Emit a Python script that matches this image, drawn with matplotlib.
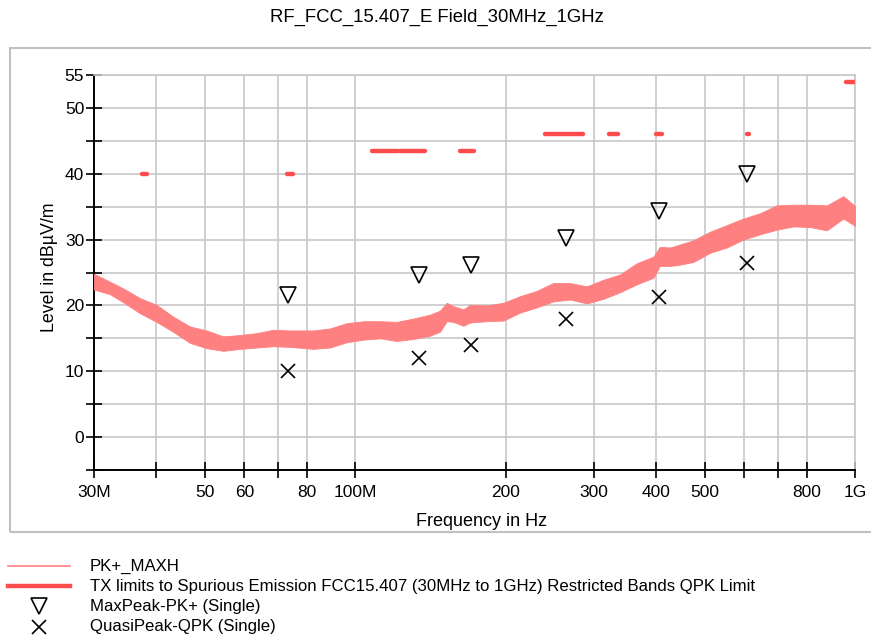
import matplotlib
matplotlib.use("Agg")
import matplotlib.pyplot as plt
from matplotlib.lines import Line2D
from matplotlib.patches import Rectangle
from matplotlib.ticker import NullLocator
import numpy as np

plt.rcParams['font.family'] = ['Liberation Sans', 'DejaVu Sans']

# PK+_MAXH trace, read as lower / upper edge of the noisy band (MHz, dBuV/m)
trace_mhz = [30, 32.3, 34.3, 37.1, 40.0, 43.2, 46.7, 50.4, 54.4, 58.8, 63.5, 68.5,
             74.0, 82.4, 89.0, 96.1, 103.8, 112.1, 121.0, 130.6, 141.1, 147.7,
             152.4, 157.1, 164.5, 169.7, 183.2, 197.8, 213.6, 230.7, 249.0, 269.0,
             290.5, 313.6, 338.7, 365.7, 394.9, 406.8, 426.4, 439.8, 474.9, 512.8,
             553.8, 597.9, 645.6, 697.2, 752.4, 812.9, 878.1, 947.7, 1000]
trace_low = [22.4, 21.7, 20.5, 18.8, 17.5, 16.0, 14.3, 13.5, 13.1, 13.4, 13.6, 13.8,
             13.7, 13.4, 13.6, 14.4, 14.8, 15.0, 14.6, 14.9, 15.4, 16.0,
             17.6, 17.5, 16.9, 17.4, 17.6, 17.7, 18.9, 19.7, 20.6, 20.9,
             20.3, 21.0, 22.0, 23.2, 24.2, 26.0, 26.0, 26.1, 26.6, 28.0,
             28.8, 30.0, 30.8, 31.5, 32.0, 31.9, 31.4, 33.2, 32.1]
trace_high = [24.8, 23.6, 22.6, 21.1, 20.1, 18.3, 16.8, 16.2, 15.3, 15.5, 15.8, 16.3,
              16.2, 16.2, 16.5, 17.3, 17.6, 17.6, 17.5, 18.0, 18.6, 19.2,
              20.4, 19.9, 19.4, 20.1, 20.0, 20.4, 21.4, 22.2, 23.4, 23.4,
              22.9, 23.9, 24.7, 26.4, 27.4, 28.9, 28.8, 29.1, 29.9, 31.2,
              32.2, 33.2, 34.0, 35.2, 35.3, 35.3, 35.2, 36.6, 35.1]

# restricted band limit segments
band_start = [37.5, 73, 74.8, 108, 123, 149.9, 156.52475, 156.7, 162.0125, 167.72,
              240, 322, 399.9, 608, 960]
band_stop = [38.25, 74.6, 75.2, 121.94, 138, 150.05, 156.52525, 156.9, 167.17, 173.2,
             285, 335.4, 410, 614, 1000]
band_level = [40, 40, 40, 43.5, 43.5, 43.5, 43.5, 43.5, 43.5, 43.5,
              46, 46, 46, 46, 54]

# final measurement points
peak_mhz = [73.2, 134.3, 170.3, 263.7, 404.4, 609.0]
maxpeak = [21.6, 24.6, 26.2, 30.3, 34.4, 40.0]
quasipeak = [10.1, 12.0, 14.0, 18.0, 21.3, 26.5]

xtick_mhz = [30, 40, 50, 60, 70, 80, 100, 200, 300, 400, 500, 600, 700, 800, 1000]
xtick_labels = ['30M', '', '50', '60', '', '80', '100M', '200', '300', '400', '500',
                '', '', '800', '1G']
ytick_vals = list(range(-5, 56, 5))
ytick_labels = ['' if (v % 10 and v != 55) else str(v) for v in ytick_vals]

trace_col = '#ff8080'
limit_col = '#ff4d4d'
fs = 12.5

W, H = 871, 639
fig = plt.figure(figsize=(W / 100, H / 100), dpi=100)
ax = fig.add_axes([94 / W, 1 - 470 / H, 761 / W, 395 / H])

hz = lambda v: np.array(v) * 1e6

ax.fill_between(hz(trace_mhz), trace_low, trace_high, color=trace_col,
                edgecolor=trace_col, lw=0.6, zorder=3)
for s, e, lv in zip(band_start, band_stop, band_level):
    ax.plot(hz([s, e]), [lv, lv], color=limit_col, lw=3.2,
            solid_capstyle='round', zorder=4)
ax.plot(hz(peak_mhz), maxpeak, ls='none', marker='v', ms=12, mfc='none',
        mec='black', mew=1.2, zorder=5)
ax.plot(hz(peak_mhz), quasipeak, ls='none', marker='x', ms=10,
        mec='black', mew=1.2, zorder=5)

ax.set_xscale('log')
ax.set_xlim(30e6, 1e9)
ax.set_ylim(-5, 55)
ax.set_xticks(hz(xtick_mhz))
ax.set_xticklabels(xtick_labels)
ax.xaxis.set_minor_locator(NullLocator())
ax.set_yticks(ytick_vals)
ax.set_yticklabels(ytick_labels)
ax.tick_params(direction='inout', length=12, width=1.2, labelsize=fs)
ax.tick_params(axis='y', pad=1)
ax.tick_params(axis='x', pad=5)
ax.grid(True, color='#c8c8c8', lw=1.2, zorder=0)
ax.set_axisbelow(True)
for sp in ['top', 'right']:
    ax.spines[sp].set_color('#c8c8c8')
    ax.spines[sp].set_linewidth(1.2)
for sp in ['left', 'bottom']:
    ax.spines[sp].set_linewidth(1.4)

fig.text(437 / W, 1 - 17 / H, 'RF_FCC_15.407_E Field_30MHz_1GHz', ha='center',
         va='center', fontsize=13.3)
fig.text(50 / W, 1 - 267 / H, 'Level in dBµV/m', rotation=90, ha='center',
         va='center', fontsize=12.8)
fig.text(482 / W, 1 - 521 / H, 'Frequency in Hz', ha='center', va='center',
         fontsize=13)

fig.add_artist(Rectangle((10 / W, 1 - 532 / H), 870 / W, 484 / H, fill=False,
                         edgecolor='#c0c0c0', lw=1.5, transform=fig.transFigure))

# legend
rows = [566, 586, 606, 627]
names = ['PK+_MAXH',
         'TX limits to Spurious Emission FCC15.407 (30MHz to 1GHz) Restricted Bands QPK Limit',
         'MaxPeak-PK+ (Single)', 'QuasiPeak-QPK (Single)']
fig.add_artist(Line2D([8 / W, 70 / W], [1 - rows[0] / H] * 2, color=trace_col, lw=1.2,
                      transform=fig.transFigure))
fig.add_artist(Line2D([8 / W, 70 / W], [1 - rows[1] / H] * 2, color=limit_col, lw=3.2,
                      transform=fig.transFigure))
fig.add_artist(Line2D([39 / W], [1 - rows[2] / H], ls='none', marker='v', ms=12,
                      mfc='none', mec='black', mew=1.2, transform=fig.transFigure))
fig.add_artist(Line2D([39 / W], [1 - rows[3] / H], ls='none', marker='x', ms=10,
                      mec='black', mew=1.2, transform=fig.transFigure))
for r, n in zip(rows, names):
    fig.text(90 / W, 1 - r / H, n, ha='left', va='center', fontsize=12.1)

fig.savefig('out.png', dpi=100)
